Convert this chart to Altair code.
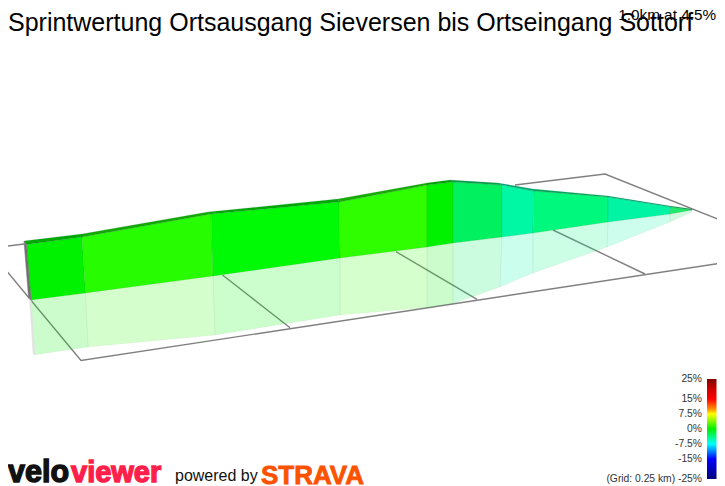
import altair as alt
import pandas as pd

TITLE = "Sprintwertung Ortsausgang Sieversen bis Ortseingang Sottorf"
SUBTITLE = "1.0km at 4.5%"

# profile (page pixels)
back_x = [24, 82, 208, 338, 427, 450, 498, 533, 608, 670, 692]
back_y = [241, 234, 212, 199, 183, 180, 183, 189, 196, 206, 209]
front_x = [26.5, 82, 211, 339, 427, 453, 502, 534, 608, 671, 692]
front_y = [244.5, 237, 214, 202, 185, 182, 185, 191, 197, 207, 210]
base_x = [31, 85.5, 213, 340, 427, 453, 502, 533, 608, 670, 692]
base_y = [300, 293, 276, 258, 247, 243, 237, 233, 222, 214, 210]
shadow_x = [33.5, 88, 215, 340, 427, 453, 500, 533, 607, 670, 692]
shadow_y = [355, 347, 335, 315, 307.5, 303.5, 287, 273, 247, 222, 212]

wall_colors = ["#00f200", "#28fd00", "#00fa06", "#2efe00", "#00f200",
               "#00f060", "#00f8a4", "#00f87c", "#00f4a4", "#20e868"]
road_colors = ["#00a800", "#14a800", "#00a804", "#18aa00", "#00a000",
               "#00a048", "#00a878", "#00a85c", "#00a478", "#109c48"]

side_x = [24, 26.5, 31, 28.5]
side_y = [241, 244.5, 300, 297]
side_shadow_x = [29.5, 31, 35, 33]
side_shadow_y = [298, 300, 355, 353]

grid_lines = [
    ([0, 24], [247, 244]),
    ([515, 605, 725], [185, 174, 222]),
    ([0, 81, 725], [263, 360.5, 262.5]),
    ([222.5, 290], [275, 327.7]),
    ([396, 477], [251.7, 299.3]),
    ([553, 645], [230, 274]),
]

legend_labels = ["25%", "15%", "7.5%", "0%", "-7.5%", "-15%", "(Grid: 0.25 km) -25%"]
legend_y = [382, 402, 417, 432, 447, 462, 482]
legend_stops = [(0, "#7a0000"), (0.08, "#c00000"), (0.2, "#ff0000"), (0.3, "#ff9000"),
                (0.35, "#ffff00"), (0.5, "#00f000"), (0.65, "#00ffff"),
                (0.8, "#0000ff"), (1, "#00007a")]

X = alt.X("x:Q", scale=alt.Scale(domain=[8, 717], nice=False, zero=False), axis=None)
Y = alt.Y("y:Q", scale=alt.Scale(domain=[498, 8], nice=False, zero=False), axis=None)
X2 = alt.X2("x2:Q")
Y2 = alt.Y2("y2:Q")


def quads(xa, ya, xb, yb, colors):
    rows = []
    for k, c in enumerate(colors):
        pts = [(xa[k], ya[k]), (xa[k + 1], ya[k + 1]), (xb[k + 1], yb[k + 1]), (xb[k], yb[k])]
        for i, (px, py) in enumerate(pts):
            rows.append(dict(p=k, i=i, x=px, y=py, c=c))
    return pd.DataFrame(rows)


def polys(df, **kw):
    return alt.Chart(df).mark_line(interpolate="linear-closed", **kw).encode(
        x=X, y=Y, order="i:Q", detail="p:N", fill=alt.Fill("c:N", scale=None))


def text(rows, **kw):
    return alt.Chart(pd.DataFrame(rows)).mark_text(baseline="alphabetic", **kw).encode(
        x=X, y=Y, text="t:N", detail="x:Q")


grid_rows = []
for k, (gx, gy) in enumerate(grid_lines):
    for i, (px, py) in enumerate(zip(gx, gy)):
        grid_rows.append(dict(p=k, i=i, x=px, y=py))
grid = alt.Chart(pd.DataFrame(grid_rows)).mark_line(color="#808080", strokeWidth=1.4).encode(
    x=X, y=Y, order="i:Q", detail="p:N")

side_df = pd.DataFrame(dict(p=0, i=range(4), x=side_x, y=side_y, c="#707070"))
side_sh_df = pd.DataFrame(dict(p=0, i=range(4), x=side_shadow_x, y=side_shadow_y, c="#e2e2e2"))

bar = alt.Chart(pd.DataFrame([dict(x=707, x2=716.5, y=379, y2=479)])).mark_rect(
    color=alt.LinearGradient(gradient="linear", x1=0, x2=0, y1=0, y2=1,
                             stops=[alt.GradientStop(offset=o, color=c) for o, c in legend_stops])
).encode(x=X, x2=X2, y=Y, y2=Y2)

FONT = "Liberation Sans"
layers = [
    grid,
    polys(quads(base_x, base_y, shadow_x, shadow_y, wall_colors), fillOpacity=0.2, stroke="#000000", strokeOpacity=0.03, strokeWidth=1),
    polys(side_sh_df, stroke="#e2e2e2", strokeWidth=0.5),
    polys(quads(front_x, front_y, base_x, base_y, wall_colors), stroke="#006000", strokeOpacity=0.1, strokeWidth=1),
    polys(quads(back_x, back_y, front_x, front_y, road_colors), stroke="#008040", strokeOpacity=0.3, strokeWidth=0.5),
    polys(side_df, stroke="#707070", strokeWidth=0.5),
    text([dict(x=8, y=30.6, t=TITLE)], font=FONT, fontSize=25, align="left", color="#000000"),
    text([dict(x=716, y=19.5, t=SUBTITLE)], font=FONT, fontSize=15.3, align="right", color="#000000"),
    bar,
    text([dict(x=702, y=v, t=t) for t, v in zip(legend_labels, legend_y)], font=FONT, fontSize=10.3, align="right", color="#333333"),
    text([dict(x=8, y=482, t="velo")], font=FONT, fontSize=30.5, fontWeight="bold", align="left", color="#111111", stroke="#111111", strokeWidth=1.4),
    text([dict(x=71, y=482, t="viewer")], font=FONT, fontSize=29, fontWeight="bold", align="left", color="#ff1f4b", stroke="#ff1f4b", strokeWidth=1.4),
    text([dict(x=175, y=481, t="powered by")], font=FONT, fontSize=16, align="left", color="#111111"),
    text([dict(x=261, y=484, t="STRAVA")], font=FONT, fontSize=26, fontWeight="bold", align="left", color="#fc5200", stroke="#fc5200", strokeWidth=0.8),
]

chart = alt.layer(*layers).properties(
    width=709, height=490, padding=0, autosize=alt.AutoSizeParams(type="none"), background="#ffffff"
).configure_view(stroke=None)

chart.save("out.html", embed_options={"renderer": "svg", "actions": False})
